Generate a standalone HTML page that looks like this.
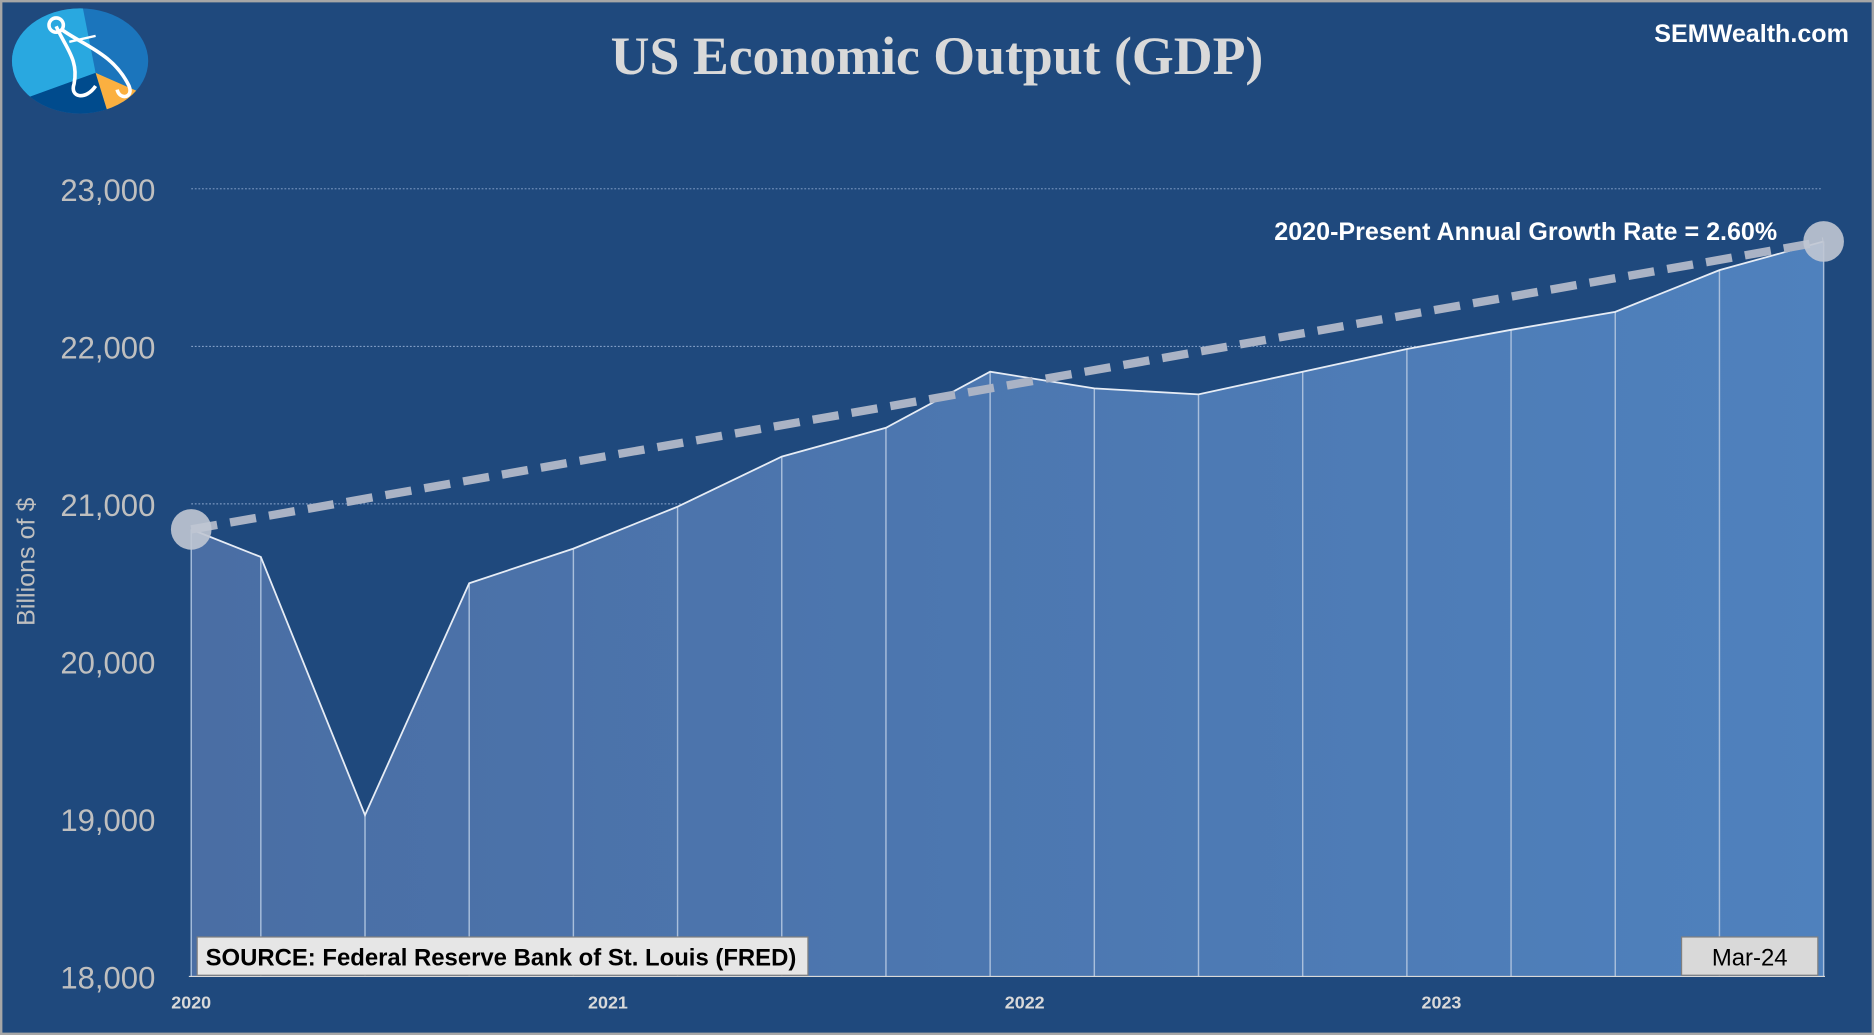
<!DOCTYPE html>
<html><head><meta charset="utf-8"><style>
html,body{margin:0;padding:0;background:#1f497d;}
svg{display:block;}
</style></head><body>
<svg id="chart" width="1874" height="1035" viewBox="0 0 1568 866" xmlns="http://www.w3.org/2000/svg">
<defs>
<linearGradient id="fillg" x1="0" x2="1" y1="0" y2="0">
<stop offset="0" stop-color="#4a6ea4"/><stop offset="1" stop-color="#4f81bd"/>
</linearGradient>
</defs>
<rect x="1" y="1" width="1566" height="864" fill="#1f497d" stroke="#a6a6a6" stroke-width="2"/>
<g>
<clipPath id="lc"><ellipse cx="67" cy="51" rx="57" ry="44"/></clipPath>
<g clip-path="url(#lc)">
<rect x="0" y="0" width="140" height="100" fill="#1b75bc"/>
<path d="M80,61 L68,0 L0,0 L0,90 Z" fill="#29a8e0"/>
<path d="M80,61 L0,90 L0,100 L92,100 Z" fill="#004b8d"/>
<path d="M80,61 L92,100 L130,100 L130,90 L128,82 Z" fill="#fbb040"/>
</g>
<path d="M47,22 C55,40 66,50 62,70 C58,82 72,84 80,72" fill="none" stroke="#fff" stroke-width="3"/>
<path d="M52,25 C70,38 95,45 108,72 C112,82 100,84 98,75" fill="none" stroke="#fff" stroke-width="3"/>
<circle cx="47" cy="21" r="6" fill="none" stroke="#fff" stroke-width="3"/>
<line x1="58" y1="35" x2="80" y2="30" stroke="#fff" stroke-width="2"/>
</g>
<text x="784" y="62" text-anchor="middle" font-family="Liberation Serif, serif" font-weight="bold" font-size="45" fill="#d9d9d9">US Economic Output (GDP)</text>
<text x="1547" y="35" text-anchor="end" font-family="Liberation Sans, sans-serif" font-weight="bold" font-size="21" fill="#ffffff">SEMWealth.com</text>
<text transform="translate(29,470) rotate(-90)" text-anchor="middle" font-family="Liberation Sans, sans-serif" font-size="21" fill="#bfbfbf">Billions of $</text>
<g id="grid"></g>
<g id="area"></g>
<g id="axes"></g>
<g id="trend"></g>
<text x="1487" y="201" text-anchor="end" font-family="Liberation Sans, sans-serif" font-weight="bold" font-size="21" fill="#ffffff">2020-Present Annual Growth Rate = 2.60%</text>
<g>
<rect x="165" y="784" width="511" height="32" fill="#e6e6e6" stroke="#7f7f7f"/>
<text x="172" y="808" font-family="Liberation Sans, sans-serif" font-weight="bold" font-size="20" fill="#000">SOURCE: Federal Reserve Bank of St. Louis (FRED)</text>
</g>
<g>
<rect x="1407" y="784" width="114" height="32" fill="#d9d9d9" stroke="#7f7f7f"/>
<text x="1464" y="808" text-anchor="middle" font-family="Liberation Sans, sans-serif" font-size="20" fill="#000">Mar-24</text>
</g>
</svg>
<script>
const dates = [2020.0, 2020.167, 2020.417, 2020.667, 2020.917, 2021.167, 2021.417, 2021.667, 2021.917, 2022.167, 2022.417, 2022.667, 2022.917, 2023.167, 2023.417, 2023.667, 2023.917];
const gdp = [20838, 20663, 19024, 20496, 20716, 20982, 21300, 21483, 21839, 21733, 21695, 21839, 21983, 22105, 22219, 22484, 22666];
const yTicks = [18000, 19000, 20000, 21000, 22000, 23000];
const yTickLabels = ["18,000", "19,000", "20,000", "21,000", "22,000", "23,000"];
const xTicks = [2020, 2021, 2022, 2023];
const xTickLabels = ["2020", "2021", "2022", "2023"];
const growthRate = 0.026;

const NS = "http://www.w3.org/2000/svg";
const x = t => 160 + (t - 2020) * 348.7;
const y = v => 817 - (v - 18000) * 0.1318;
function mk(tag, attrs, parent){const e=document.createElementNS(NS,tag);for(const k in attrs)e.setAttribute(k,attrs[k]);parent.appendChild(e);return e;}
const grid=document.getElementById('grid'), area=document.getElementById('area'), axes=document.getElementById('axes'), trend=document.getElementById('trend');

yTicks.forEach((v,i)=>{
  if(v>20000){
    const l=mk('line',{x1:160,x2:1525,y1:y(v),y2:y(v),stroke:'#8ea9cf','stroke-width':0.8,'stroke-dasharray':'1.5 1.5'},grid);
    
    
  }
  const t=mk('text',{x:130,y:y(v)+10,'text-anchor':'end','font-family':'Liberation Sans, sans-serif','font-size':26,fill:'#bfbfbf'},axes);
  t.textContent=yTickLabels[i];
  
  
});
xTicks.forEach((v,i)=>{
  const t=mk('text',{x:x(v),y:844,'text-anchor':'middle','font-family':'Liberation Sans, sans-serif','font-weight':'bold','font-size':15,fill:'#d9d9d9'},axes);
  t.textContent=xTickLabels[i];
  
  
});

let d='M'+x(dates[0])+','+y(18000);
dates.forEach((t,i)=>{d+=' L'+x(t)+','+y(gdp[i]);});
d+=' L'+x(dates[dates.length-1])+','+y(18000)+' Z';
const ap=mk('path',{d:d,fill:'url(#fillg)'},area);


dates.forEach((t,i)=>{
  const l=mk('line',{x1:x(t),x2:x(t),y1:y(gdp[i]),y2:y(18000),stroke:'#a9bfdc','stroke-width':1.2},area);
  
  
});
const line=mk('polyline',{points:dates.map((t,i)=>x(t)+','+y(gdp[i])).join(' '),fill:'none',stroke:'#e6ecf5','stroke-width':1.5},area);


const base=mk('line',{x1:158,x2:1527,y1:y(18000),y2:y(18000),stroke:'#d9d9d9','stroke-width':1},axes);



const n=dates.length-1;
const tl=mk('line',{x1:x(dates[0]),y1:y(gdp[0]),x2:x(dates[n]),y2:y(gdp[n]),stroke:'#aab3c5','stroke-width':7,'stroke-dasharray':'22 11'},trend);


[0,n].forEach(i=>{
  const c=mk('circle',{cx:x(dates[i]),cy:y(gdp[i]),r:17,fill:'#c0c6d3','fill-opacity':0.9},trend);
  
  
});
</script>
</body></html>
